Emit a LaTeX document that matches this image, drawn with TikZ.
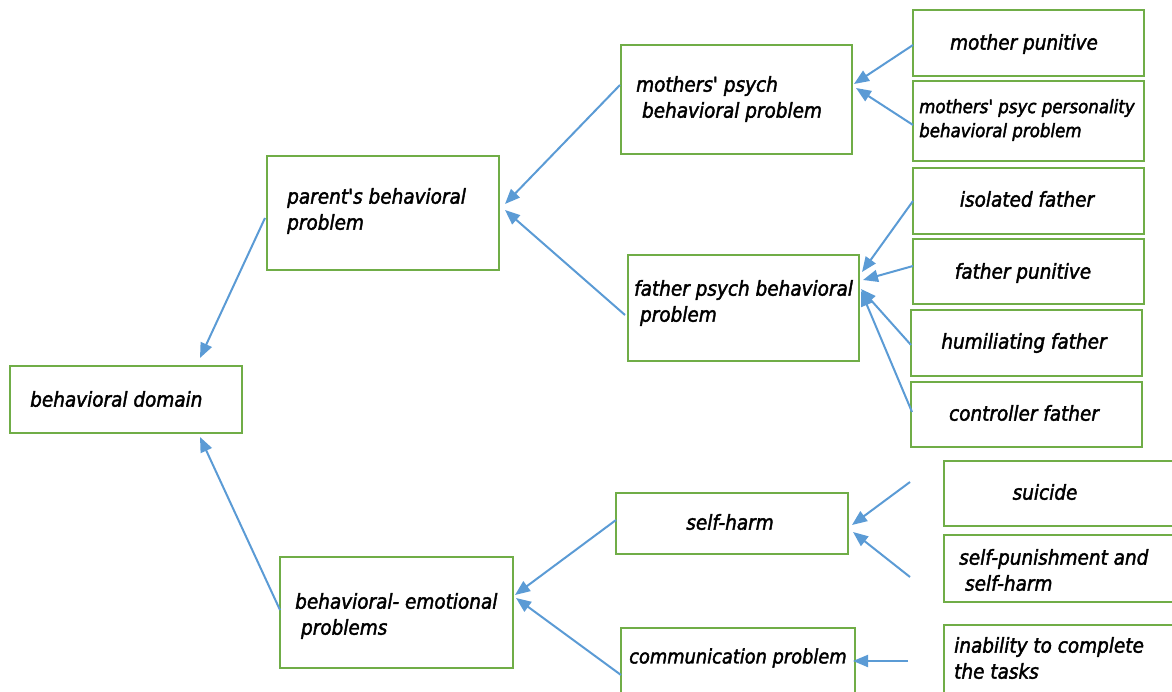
\documentclass[tikz,border=0pt]{standalone}
\usepackage{fontspec}
\setmainfont{DejaVu Sans Condensed}[Ligatures=TeXOff]
\usetikzlibrary{arrows.meta,calc}
\definecolor{bgreen}{RGB}{112,173,71}
\definecolor{ablue}{RGB}{91,155,213}
\newcommand\bx[5]{\node[box, minimum width=#4-#2, minimum height=#5-#3] (#1) at (#2,#3) {};}
\newcommand\heavytext{\special{pdf:literal direct 2 Tr 0.4 w}}
\begin{document}
\begin{tikzpicture}[x=1pt,y=-1pt,
  box/.style={draw=bgreen, line width=1.8pt, fill=white, inner sep=0pt, outer sep=0pt, anchor=north west},
  txt/.style={font=\fontsize{20.5}{26}\selectfont\itshape, inner sep=0pt, align=left, text=black, execute at begin node=\heavytext},
  smtxt/.style={font=\fontsize{18.5}{24}\selectfont\itshape},
  cmtxt/.style={font=\fontsize{19.8}{24}\selectfont\itshape},
  arr/.style={draw=ablue, line width=2pt, -{Triangle[length=15pt,width=12pt]}}]
\useasboundingbox (0,0) rectangle (1172,692);
\clip (0,0) rectangle (1172,692);
% boxes
\bx{dom}{10}{366}{242}{433}
\bx{par}{267}{156}{499}{270}
\bx{bem}{280}{557}{513}{668}
\bx{mpsy}{621}{45}{852}{154}
\bx{fpsy}{628}{255}{859}{361}
\bx{selfh}{616}{493}{848}{554}
\bx{comm}{621}{628}{855}{700}
\bx{mpun}{913}{10}{1144}{76}
\bx{mpers}{913}{81}{1144}{161}
\bx{iso}{913}{168}{1144}{234}
\bx{fpun}{913}{239}{1144}{304}
\bx{hum}{911}{310}{1142}{376}
\bx{ctrl}{911}{382}{1142}{447}
\bx{sui}{944}{461}{1182}{526}
\bx{spun}{944}{535}{1182}{602}
\bx{inab}{944}{625}{1182}{700}
% texts
\node[txt, anchor=west] (domT) at (30,399) {behavioral domain};
\node[txt, anchor=west] (parT) at (287,211) {parent's behavioral\\problem};
\node[txt, anchor=west] (bemT) at (295,616) {behavioral- emotional\\\ problems};
\node[txt, anchor=west] (mpsyT) at (636,99) {mothers' psych\\\ behavioral problem};
\node[txt, anchor=west] (fpsyT) at (634,303) {father psych behavioral\\\ problem};
\node[txt] (selfhT) at (730,522) {self-harm};
\node[txt, cmtxt, anchor=west] (commT) at (629,658) {communication problem};
\node[txt] (mpunT) at (1024,44) {mother punitive};
\node[txt, smtxt, anchor=west] (mpersT) at (919,120) {mothers' psyc personality\\behavioral problem};
\node[txt] (isoT) at (1027,199) {isolated father};
\node[txt] (fpunT) at (1023,273) {father punitive};
\node[txt] (humT) at (1024,343) {humiliating father};
\node[txt] (ctrlT) at (1024,413) {controller father};
\node[txt] (suiT) at (1045,492) {suicide};
\node[txt, anchor=west] (spunT) at (959,570) {self-punishment and\\\ self-harm};
\node[txt, anchor=west] (inabT) at (954,658) {inability to complete\\the tasks};
% arrows
\draw[arr] ($(par.north west)+(-2,62)$) -- ($(dom.north west)+(190,-8)$);
\draw[arr] ($(bem.north west)+(0,53)$) -- ($(dom.south west)+(190,4)$);
\draw[arr] ($(mpsy.north west)+(-1,40)$) -- ($(par.north east)+(6,48)$);
\draw[arr] ($(fpsy.north west)+(-3,60)$) -- ($(par.north east)+(6,54)$);
\draw[arr] ($(selfh.north west)+(0,27)$) -- ($(bem.north east)+(2,38)$);
\draw[arr] ($(comm.north west)+(0,47)$) -- ($(bem.north east)+(3,41)$);
\draw[arr] ($(mpun.north west)+(0,35)$) -- ($(mpsy.north east)+(2,39)$);
\draw[arr] ($(mpers.north west)+(0,44)$) -- ($(mpsy.north east)+(4,43)$);
\draw[arr] ($(iso.north west)+(0,33)$) -- ($(fpsy.north east)+(3,17)$);
\draw[arr] ($(fpun.north west)+(0,27)$) -- ($(fpsy.north east)+(4,25)$);
\draw[arr] ($(hum.north west)+(0,35)$) -- ($(fpsy.north east)+(2,34)$);
\draw[arr] ($(ctrl.north west)+(1,30)$) -- ($(fpsy.north east)+(2,36)$);
\draw[arr] ($(sui.north west)+(-34,21)$) -- ($(selfh.north east)+(4,32)$);
\draw[arr] ($(spun.north west)+(-34,42)$) -- ($(selfh.north east)+(5,39)$);
\draw[arr] ($(inab.north west)+(-36,36)$) -- ($(comm.north east)+(-2,33)$);
\end{tikzpicture}
\end{document}
